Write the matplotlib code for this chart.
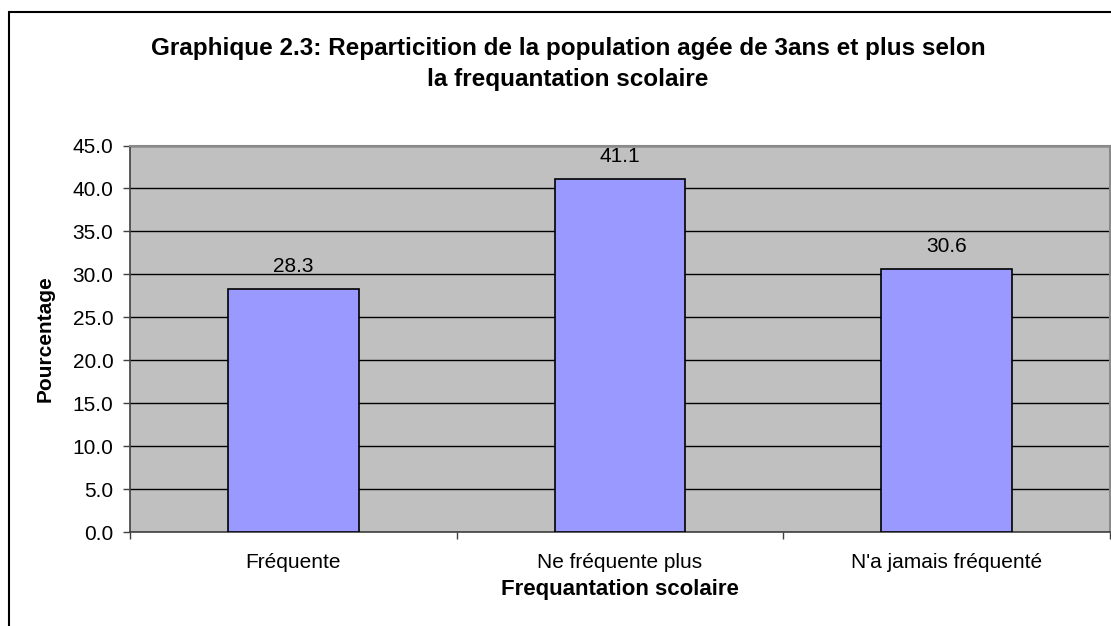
import matplotlib.pyplot as plt
import numpy as np
from matplotlib.patches import Rectangle

categories = ["Fréquente", "Ne fréquente plus", "N'a jamais fréquenté"]
values = [28.3, 41.1, 30.6]
yticks = [0, 5, 10, 15, 20, 25, 30, 35, 40, 45]

title1 = "Graphique 2.3: Reparticition de la population agée de 3ans et plus selon"
title2 = "la frequantation scolaire"

plt.rcParams['font.family'] = ['Liberation Sans', 'DejaVu Sans']

W, H = 1111, 626
fig = plt.figure(figsize=(W / 100, H / 100), dpi=100)

# plot area in pixel terms, converted to figure fractions
ax = fig.add_axes([130 / W, 1 - 532 / H, 980 / W, (532 - 145.5) / H])
x = np.arange(len(categories))
ax.bar(x, values, width=0.40, color='#9999FF', edgecolor='black', linewidth=1.2, zorder=3)
ax.set_xlim(-0.5, 2.5)
ax.set_ylim(0, 45)
ax.set_facecolor('#C0C0C0')

ax.set_yticks(yticks)
ax.set_yticklabels(["{:.1f}".format(v) for v in yticks])
ax.yaxis.grid(True, color='black', linewidth=1.0, zorder=1)
ax.set_axisbelow(True)

ax.set_xticks(x)
ax.set_xticklabels(categories)
ax.set_xticks([-0.5, 0.5, 1.5, 2.5], minor=True)
ax.tick_params(axis='x', which='major', length=0, pad=15, labelsize=15)
ax.tick_params(axis='x', which='minor', length=5, width=1, color='#404040')
ax.tick_params(axis='y', length=5, width=1, color='#404040', pad=7, labelsize=15)

for s in ['top', 'right']:
  ax.spines[s].set_color('#8a8a8a')
  ax.spines[s].set_linewidth(1.5)
for s in ['left', 'bottom']:
  ax.spines[s].set_color('#404040')
  ax.spines[s].set_linewidth(1.2)

for i, v in enumerate(values):
  ax.annotate("{:.1f}".format(v), (i, v), xytext=(0, 16.5), textcoords='offset points',
              ha='center', va='center', fontsize=15)

# titles and axis names
fig.text(568 / W, 1 - 55 / H, title1, ha='center', va='baseline', fontsize=17.5, fontweight='bold')
fig.text(568 / W, 1 - 86 / H, title2, ha='center', va='baseline', fontsize=17.5, fontweight='bold')
fig.text(620 / W, 1 - 595 / H, "Frequantation scolaire", ha='center', va='baseline',
         fontsize=16, fontweight='bold')
fig.text(45.5 / W, 1 - 339 / H, "Pourcentage", ha='center', va='center', rotation=90,
         fontsize=15, fontweight='bold')

# chart border (cropped on right and bottom)
fig.patches.append(Rectangle((9 / W, -0.05), 1.2, 1 - 12 / H + 0.05, fill=False,
                             edgecolor='black', linewidth=1.5, transform=fig.transFigure))

fig.savefig('out.png', dpi=100)
